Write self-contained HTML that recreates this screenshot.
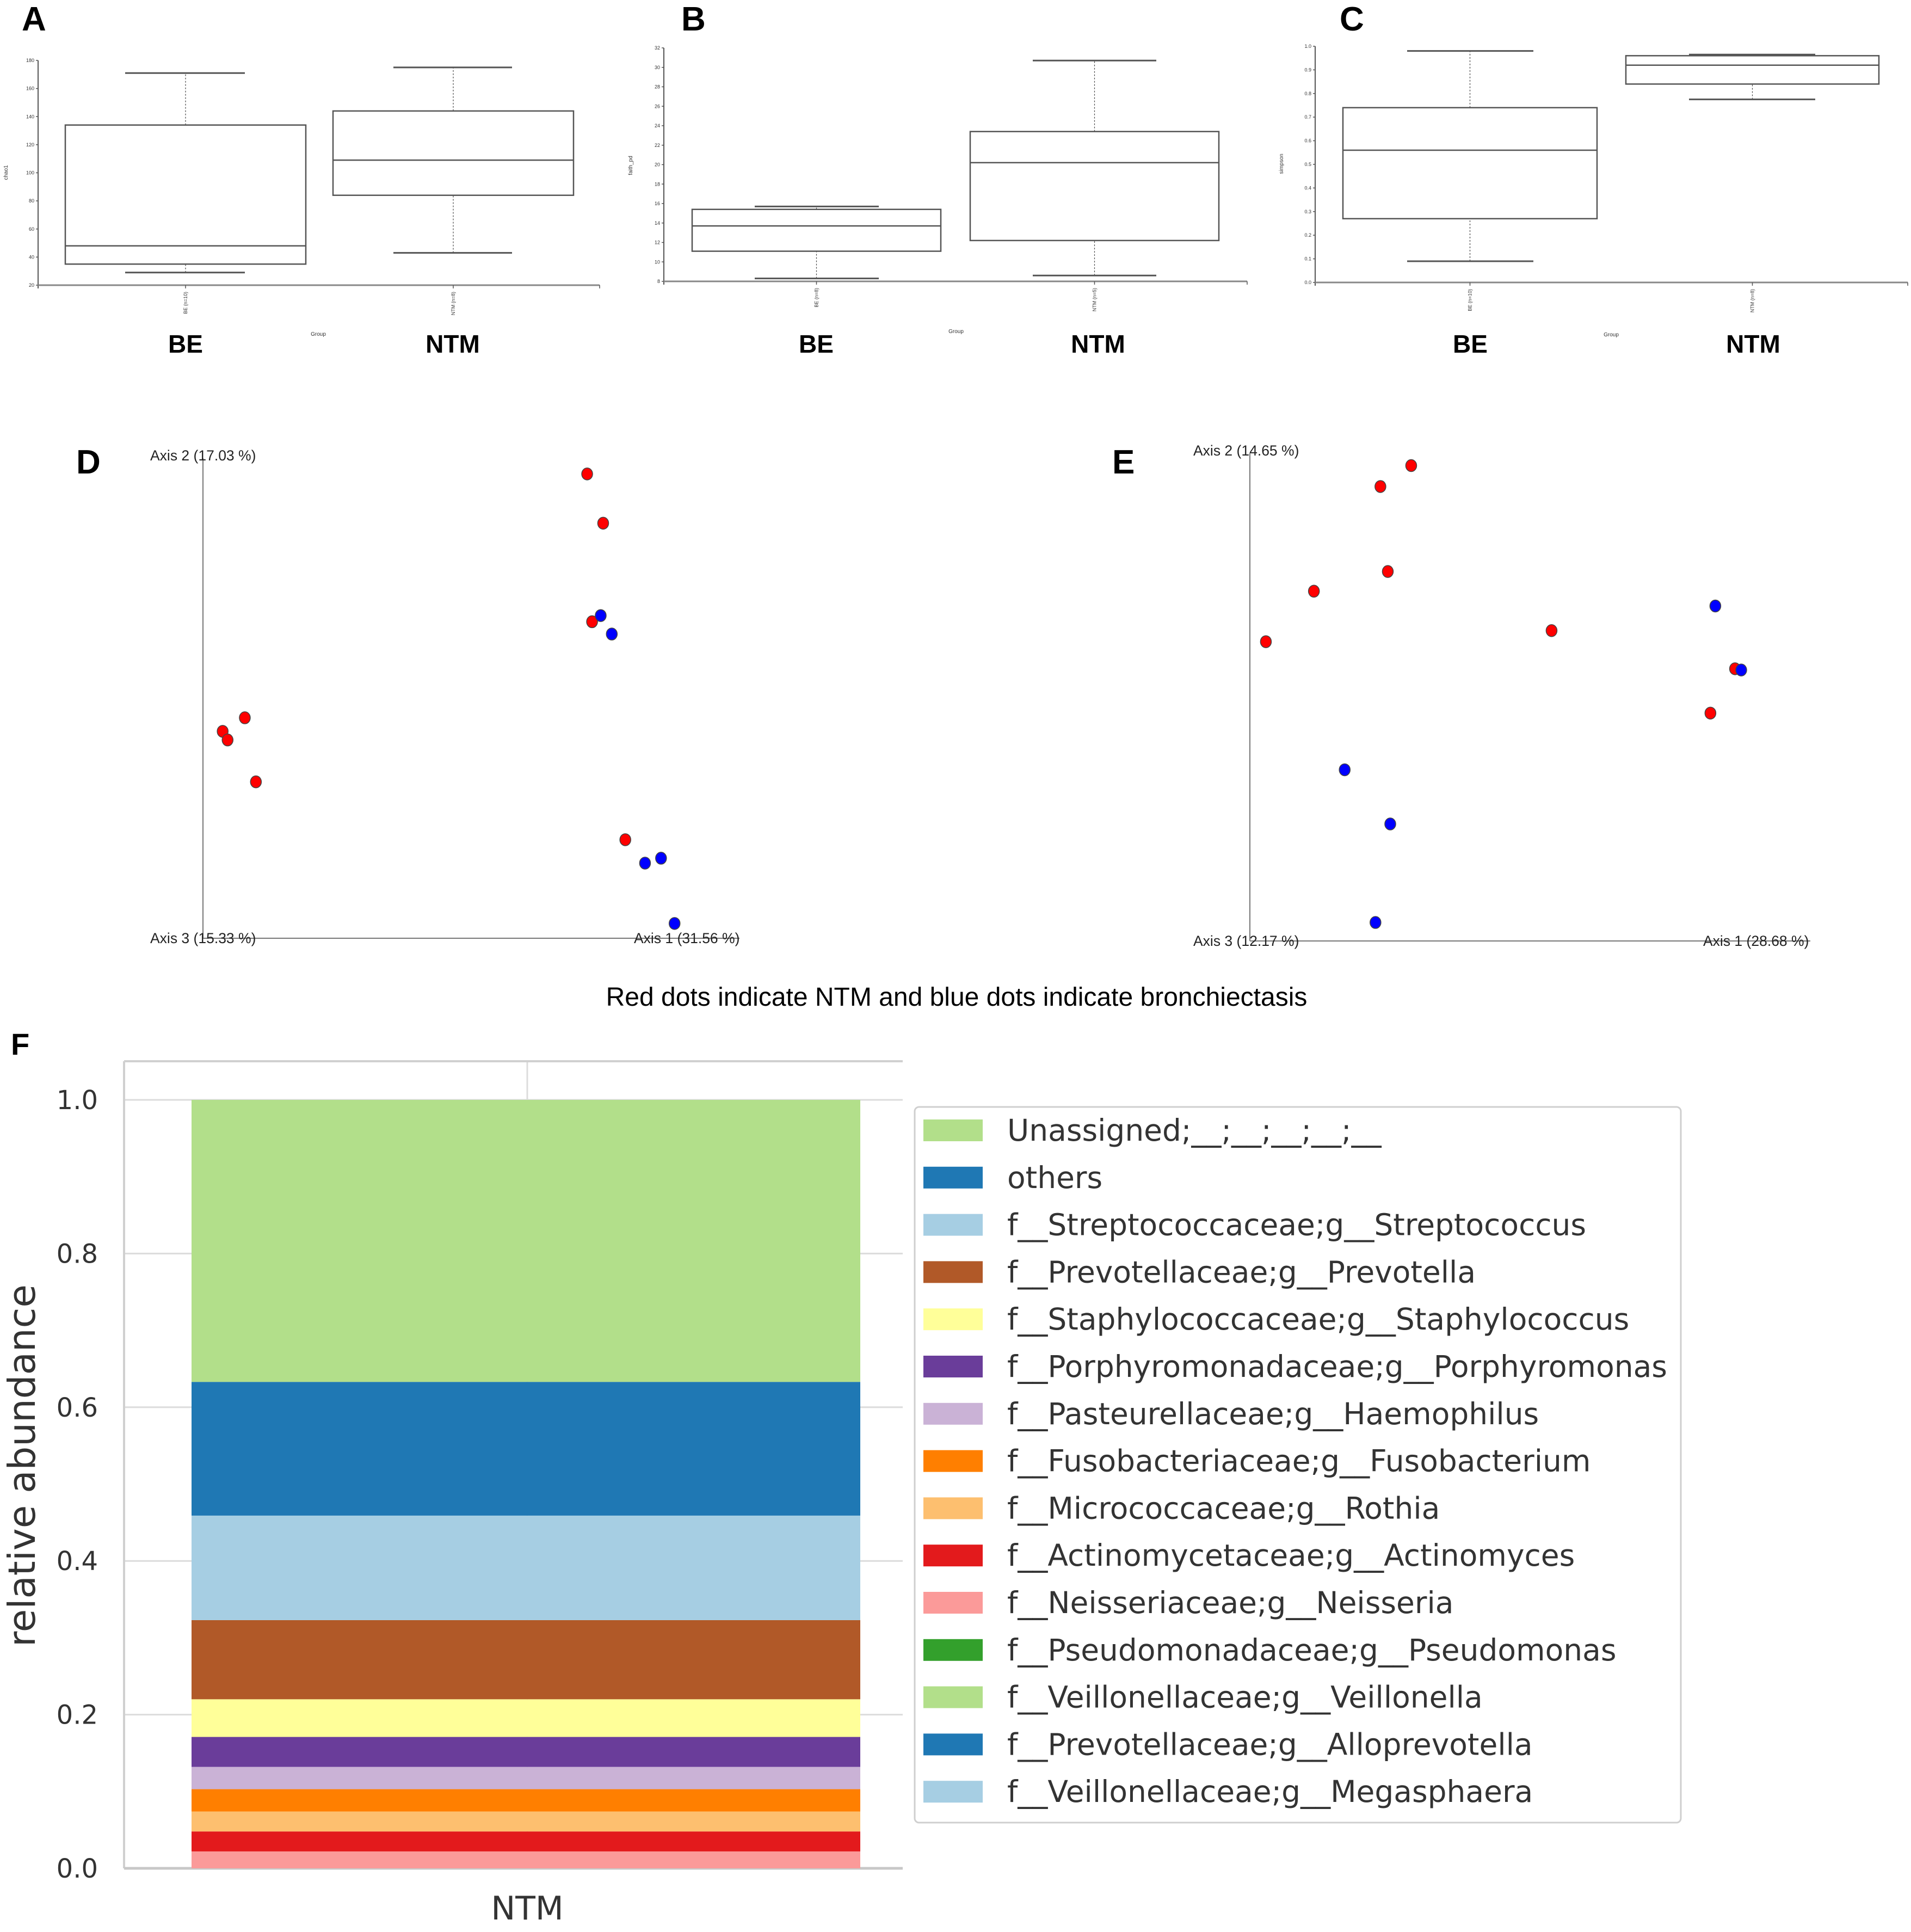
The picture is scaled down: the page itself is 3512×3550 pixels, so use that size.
<!DOCTYPE html>
<html><head><meta charset="utf-8"><style>
html,body{margin:0;padding:0;background:#fff;}
svg{display:block;}
</style></head><body>
<svg id="fig" xmlns="http://www.w3.org/2000/svg" width="3512" height="3550" viewBox="0 0 3512 3550" font-family="Liberation Sans, sans-serif">
<rect width="3512" height="3550" fill="#fff"/>
<g font-family="Liberation Sans Narrow, Liberation Sans, sans-serif" font-weight="bold" font-size="62" fill="#000">
<text x="40" y="56">A</text>
<text x="1252" y="56">B</text>
<text x="2462" y="56">C</text>
<text x="140" y="870">D</text>
<text x="2044" y="870">E</text>
<text x="20" y="1938" font-size="56">F</text>
</g>
<g id="boxes"></g>
<g id="scatter"></g>
<text x="1758" y="1848" font-size="48" text-anchor="middle" fill="#000">Red dots indicate NTM and blue dots indicate bronchiectasis</text>
<g id="bar"></g>
</svg>
<script>
// ---- Box plot data ----
const boxGroups = ["BE", "NTM"];
const chaoStats = [[29, 35, 48, 134, 171], [43, 84, 109, 144, 175]];
const faithStats = [[8.3, 11.1, 13.7, 15.4, 15.7], [8.6, 12.2, 20.2, 23.4, 30.7]];
const simpsonStats = [[0.09, 0.27, 0.56, 0.74, 0.98], [0.775, 0.84, 0.92, 0.96, 0.965]];
const chaoTicks = [20, 40, 60, 80, 100, 120, 140, 160, 180];
const faithTicks = [8, 10, 12, 14, 16, 18, 20, 22, 24, 26, 28, 30, 32];
const simpsonTicks = [0.0, 0.1, 0.2, 0.3, 0.4, 0.5, 0.6, 0.7, 0.8, 0.9, 1.0];
const chaoCatLabels = ["BE (n=10)", "NTM (n=8)"];
const faithCatLabels = ["BE (n=8)", "NTM (n=5)"];
const simpsonCatLabels = ["BE (n=10)", "NTM (n=8)"];

// ---- PCoA scatter data (axis score units) ----
const dNtmX = [312, 325, 316, 34, 16, 20, 43, 343];
const dNtmY = [377, 337, 257, 179, 168, 161, 127, 80];
const dBeX = [323, 332, 359, 372, 383];
const dBeY = [262, 247, 61, 65, 12];
const eNtmX = [131, 106, 112, 52, 13, 245, 394, 374];
const eNtmY = [386, 369, 300, 284, 243, 252, 221, 185];
const eBeX = [378, 399, 77, 114, 102];
const eBeY = [272, 220, 139, 95, 15];

// ---- Taxa bar data (bottom to top) ----
const taxaNames = ["f__Neisseriaceae;g__Neisseria","f__Actinomycetaceae;g__Actinomyces","f__Micrococcaceae;g__Rothia","f__Fusobacteriaceae;g__Fusobacterium","f__Pasteurellaceae;g__Haemophilus","f__Porphyromonadaceae;g__Porphyromonas","f__Staphylococcaceae;g__Staphylococcus","f__Prevotellaceae;g__Prevotella","f__Streptococcaceae;g__Streptococcus","others","Unassigned;__;__;__;__;__"];
const taxaValues = [0.022, 0.026, 0.026, 0.029, 0.029, 0.039, 0.049, 0.103, 0.136, 0.174, 0.367];
const legendLabels = ["Unassigned;__;__;__;__;__","others","f__Streptococcaceae;g__Streptococcus","f__Prevotellaceae;g__Prevotella","f__Staphylococcaceae;g__Staphylococcus","f__Porphyromonadaceae;g__Porphyromonas","f__Pasteurellaceae;g__Haemophilus","f__Fusobacteriaceae;g__Fusobacterium","f__Micrococcaceae;g__Rothia","f__Actinomycetaceae;g__Actinomyces","f__Neisseriaceae;g__Neisseria","f__Pseudomonadaceae;g__Pseudomonas","f__Veillonellaceae;g__Veillonella","f__Prevotellaceae;g__Alloprevotella","f__Veillonellaceae;g__Megasphaera"];
const barTicks = [0.0, 0.2, 0.4, 0.6, 0.8, 1.0];

const NS = "http://www.w3.org/2000/svg";
function mk(parent, tag, attrs, text) {
  const e = document.createElementNS(NS, tag);
  for (const k in attrs) e.setAttribute(k, attrs[k]);
  if (text !== undefined) e.textContent = text;
  parent.appendChild(e);
  return e;
}
const palette = {"Unassigned;__;__;__;__;__":"#b2df8a","others":"#1f78b4","f__Streptococcaceae;g__Streptococcus":"#a6cee3","f__Prevotellaceae;g__Prevotella":"#b15928","f__Staphylococcaceae;g__Staphylococcus":"#ffff99","f__Porphyromonadaceae;g__Porphyromonas":"#6a3d9a","f__Pasteurellaceae;g__Haemophilus":"#cab2d6","f__Fusobacteriaceae;g__Fusobacterium":"#ff7f00","f__Micrococcaceae;g__Rothia":"#fdbf6f","f__Actinomycetaceae;g__Actinomyces":"#e31a1c","f__Neisseriaceae;g__Neisseria":"#fb9a99","f__Pseudomonadaceae;g__Pseudomonas":"#33a02c","f__Veillonellaceae;g__Veillonella":"#b2df8a","f__Prevotellaceae;g__Alloprevotella":"#1f78b4","f__Veillonellaceae;g__Megasphaera":"#a6cee3"};

// ---- Box plots ----
const boxRoot = document.getElementById('boxes');
const panels = [
  {id:'a', stats:chaoStats, ticks:chaoTicks, cats:chaoCatLabels, title:'chao1', x0:70, xEnd:1102, yTop:111, yBot:524, boxes:[[120,562,230,450],[612,1054,723,941]], big:[341,832], titleX:14, titleY:317, groupX:585, groupY:617},
  {id:'b', stats:faithStats, ticks:faithTicks, cats:faithCatLabels, title:'faith_pd', x0:1220, xEnd:2292, yTop:88, yBot:517, boxes:[[1272,1729,1387,1615],[1783,2240,1898,2125]], big:[1500,2018], titleX:1162, titleY:304, groupX:1757, groupY:612},
  {id:'c', stats:simpsonStats, ticks:simpsonTicks, cats:simpsonCatLabels, title:'simpson', x0:2417, xEnd:3506, yTop:85, yBot:519, boxes:[[2468,2935,2586,2818],[2988,3453,3104,3336]], big:[2702,3222], titleX:2358, titleY:301, groupX:2961, groupY:618}
];
panels.forEach(p => {
  const g = mk(boxRoot, 'g', {});
  
  
  const lo = p.ticks[0], hi = p.ticks[p.ticks.length-1];
  const y = v => p.yBot - (v - lo) / (hi - lo) * (p.yBot - p.yTop);
  const ya = mk(g, 'line', {x1:p.x0, y1:p.yTop, x2:p.x0, y2:p.yBot+6, stroke:'#555', 'stroke-width':2});
  
  
  const xa = mk(g, 'line', {x1:p.x0, y1:p.yBot, x2:p.xEnd, y2:p.yBot, stroke:'#888', 'stroke-width':3});
  
  
  mk(g, 'line', {x1:p.xEnd, y1:p.yBot, x2:p.xEnd, y2:p.yBot+6, stroke:'#555', 'stroke-width':1.5});
  p.ticks.forEach(t => {
    mk(g, 'line', {x1:p.x0-4, y1:y(t), x2:p.x0, y2:y(t), stroke:'#555', 'stroke-width':1.5});
    const tl = mk(g, 'text', {x:p.x0-7, y:y(t)+3, 'font-size':9, 'text-anchor':'end', fill:'#333'}, p.id==='c' ? t.toFixed(1) : String(t));
    
    
  });
  const tt = mk(g, 'text', {x:p.titleX, y:p.titleY, 'font-size':10, 'text-anchor':'middle', fill:'#333', transform:`rotate(-90 ${p.titleX} ${p.titleY})`}, p.title);
  
  
  const gr = mk(g, 'text', {x:p.groupX, y:p.groupY, 'font-size':10, 'text-anchor':'middle', fill:'#333'}, 'Group');
  
  
  p.stats.forEach((s, i) => {
    const [bl, br, cl, cr] = p.boxes[i];
    const cx = (bl + br) / 2;
    const bg = mk(g, 'g', {});
    
    
    mk(bg, 'line', {x1:cx, y1:y(s[0]), x2:cx, y2:y(s[1]), stroke:'#444', 'stroke-width':1.2, 'stroke-dasharray':'3,3'});
    mk(bg, 'line', {x1:cx, y1:y(s[3]), x2:cx, y2:y(s[4]), stroke:'#444', 'stroke-width':1.2, 'stroke-dasharray':'3,3'});
    mk(bg, 'line', {x1:cl, y1:y(s[0]), x2:cr, y2:y(s[0]), stroke:'#555', 'stroke-width':3});
    mk(bg, 'line', {x1:cl, y1:y(s[4]), x2:cr, y2:y(s[4]), stroke:'#555', 'stroke-width':3});
    mk(bg, 'rect', {x:bl, y:y(s[3]), width:br-bl, height:y(s[1])-y(s[3]), fill:'none', stroke:'#555', 'stroke-width':2.5});
    mk(bg, 'line', {x1:bl, y1:y(s[2]), x2:br, y2:y(s[2]), stroke:'#555', 'stroke-width':2.5});
    mk(g, 'line', {x1:cx, y1:p.yBot, x2:cx, y2:p.yBot+6, stroke:'#555', 'stroke-width':1.5});
    const cl2 = mk(g, 'text', {x:cx+3, y:p.yBot+12, 'font-size':9, 'text-anchor':'end', fill:'#333', transform:`rotate(-90 ${cx+3} ${p.yBot+12})`}, p.cats[i]);
    
    
    const big = mk(g, 'text', {x:p.big[i], y:648, 'font-size':46, 'font-weight':'bold', 'text-anchor':'middle', fill:'#000'}, boxGroups[i]);
    
    
  });
});

// ---- Scatter plots ----
const sc = document.getElementById('scatter');
const S = 2.263;
const scPanels = [
  {id:'d', ox:373, oy:1724, top:842, right:1359, ntmX:dNtmX, ntmY:dNtmY, beX:dBeX, beY:dBeY, a2:'Axis 2 (17.03 %)', a3:'Axis 3 (15.33 %)', a1:'Axis 1 (31.56 %)', lx:276, a1x:1165},
  {id:'e', ox:2297, oy:1729, top:833, right:3327, ntmX:eNtmX, ntmY:eNtmY, beX:eBeX, beY:eBeY, a2:'Axis 2 (14.65 %)', a3:'Axis 3 (12.17 %)', a1:'Axis 1 (28.68 %)', lx:2193, a1x:3130}
];
scPanels.forEach(p => {
  const g = mk(sc, 'g', {});
  
  
  const px = v => p.ox + v * S;
  const py = v => p.oy - v * S;
  mk(g, 'line', {x1:p.ox, y1:p.top, x2:p.ox, y2:p.oy, stroke:'#777', 'stroke-width':2});
  mk(g, 'line', {x1:p.ox, y1:p.oy, x2:p.right, y2:p.oy, stroke:'#777', 'stroke-width':2});
  [[p.a2, p.lx, p.top+4, 'axis-2-label'], [p.a3, p.lx, p.oy+9, 'axis-3-label'], [p.a1, p.a1x, p.oy+9, 'axis-1-label']].forEach(a => {
    const t = mk(g, 'text', {x:a[1], y:a[2], 'font-size':26.5, fill:'#222'}, a[0]);
    
    
  });
  p.ntmX.forEach((v, i) => {
    const c = mk(g, 'ellipse', {cx:px(v), cy:py(p.ntmY[i]), rx:10, ry:11, fill:'#ff0000', stroke:'#444', 'stroke-width':1.5});
    
    
  });
  p.beX.forEach((v, i) => {
    const c = mk(g, 'ellipse', {cx:px(v), cy:py(p.beY[i]), rx:10, ry:11, fill:'#0000ff', stroke:'#444', 'stroke-width':1.5});
    
    
  });
});

// ---- Stacked bar ----
const bar = document.getElementById('bar');
const fL = 228, fR = 1659, fT = 1950, y0 = 3433, y1 = 2021, bL = 352, bR = 1581;
const by = v => y0 - v * (y0 - y1);
barTicks.forEach(t => {
  const gl = mk(bar, 'line', {x1:fL, y1:by(t), x2:fR, y2:by(t), stroke:'#dcdcdc', 'stroke-width':3});
  
  
  const tl = mk(bar, 'text', {x:180, y:by(t)+17, 'font-size':48, 'font-family':'DejaVu Sans, sans-serif', 'text-anchor':'end', fill:'#333'}, t.toFixed(1));
  
  
});
mk(bar, 'line', {x1:969, y1:fT, x2:969, y2:y0, stroke:'#dcdcdc', 'stroke-width':3});
mk(bar, 'line', {x1:fL, y1:fT, x2:fR, y2:fT, stroke:'#d0d0d0', 'stroke-width':4});
mk(bar, 'line', {x1:fL, y1:fT, x2:fL, y2:y0, stroke:'#d0d0d0', 'stroke-width':4});
mk(bar, 'line', {x1:fL, y1:y0, x2:fR, y2:y0, stroke:'#c8c8c8', 'stroke-width':5});
let cum = 0;
taxaValues.forEach((v, i) => {
  const r = mk(bar, 'rect', {x:bL, y:by(cum+v), width:bR-bL, height:by(cum)-by(cum+v), fill:palette[taxaNames[i]]});
  
  
  cum += v;
});
const yt = mk(bar, 'text', {x:64, y:2693, 'font-size':69, 'font-family':'DejaVu Sans, sans-serif', 'text-anchor':'middle', fill:'#333', transform:'rotate(-90 64 2693)'}, 'relative abundance');


const xl = mk(bar, 'text', {x:969, y:3527, 'font-size':60, 'font-family':'DejaVu Sans, sans-serif', 'text-anchor':'middle', fill:'#333'}, 'NTM');


const lg = mk(bar, 'g', {});


mk(lg, 'rect', {x:1681, y:2034, width:1408, height:1315, rx:8, fill:'#fff', stroke:'#cfcfcf', 'stroke-width':3});
legendLabels.forEach((l, i) => {
  const cy = 2077 + i * 86.8;
  const e = mk(lg, 'g', {});
  
  
  mk(e, 'rect', {x:1697, y:cy-20, width:109, height:40, fill:palette[l]});
  mk(e, 'text', {x:1851, y:cy+19, 'font-size':55, 'font-family':'DejaVu Sans, sans-serif', fill:'#333'}, l);
});
</script>
</body></html>
